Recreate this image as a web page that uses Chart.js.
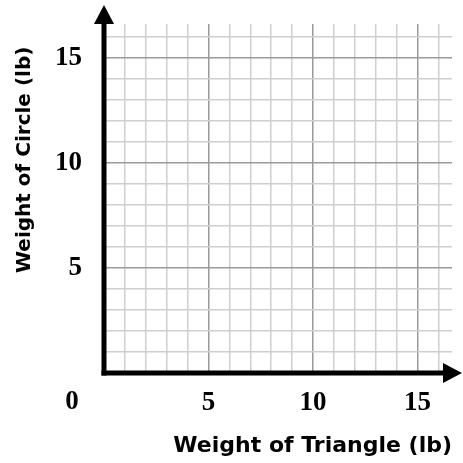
<!DOCTYPE html>
<html>
<head>
<meta charset="utf-8">
<script src="https://cdn.jsdelivr.net/npm/chart.js@4/dist/chart.umd.min.js"></script>
<style>
    html, body { margin: 0; padding: 0; background: #fff; }
    #wrap { width: 463px; height: 463px; }
</style>
</head>
<body>
<div id="wrap"><canvas id="weightChart"></canvas></div>
<script>
// Eksen verileri
const xRange = [0, 16.65];
const yRange = [0, 16.6];
const xTickLabels = [5, 10, 15];
const yTickLabels = [5, 10, 15];
const points = [];   // grafik boş, sadece ızgara

const xTitle = 'Weight of Triangle (lb)';
const yTitle = 'Weight of Circle (lb)';

const tickFont = {family: 'Liberation Serif', weight: 'bold', size: 27};

function gridColor(ctx) {
    const v = ctx.tick && ctx.tick.value;
    return (v % 5 === 0) ? '#9a9a9a' : '#cfcfcf';
}

function unitTicks(scale) {
    const t = [];
    for (let i = 1; i <= 16; i++) t.push({value: i});
    scale.ticks = t;
}

// Eksen okları, "0" etiketi ve eksen başlıkları
const arrowAxes = {
    id: 'arrowAxes',
    afterDraw(chart) {
        const c = chart.ctx;
        const x = chart.scales.x, y = chart.scales.y;
        const x0 = x.getPixelForValue(0);
        const y0 = y.getPixelForValue(0);
        c.save();
        c.strokeStyle = '#000';
        c.fillStyle = '#000';
        c.lineWidth = 5;
        c.lineCap = 'butt';
        // y ekseni
        c.beginPath();
        c.moveTo(x0, y0 + 2.5);
        c.lineTo(x0, 22);
        c.stroke();
        c.beginPath();
        c.moveTo(x0 - 10, 24);
        c.lineTo(x0, 5);
        c.lineTo(x0 + 10, 24);
        c.closePath();
        c.fill();
        // x ekseni
        c.beginPath();
        c.moveTo(x0 - 2.5, y0);
        c.lineTo(445, y0);
        c.stroke();
        c.beginPath();
        c.moveTo(443, y0 - 10);
        c.lineTo(462, y0);
        c.lineTo(443, y0 + 10);
        c.closePath();
        c.fill();
        // köşe etiketi
        c.font = 'bold 27px "Liberation Serif"';
        c.textAlign = 'center';
        c.textBaseline = 'middle';
        c.fillText('0', 72, 402);
        // başlıklar
        c.font = 'bold 22px "DejaVu Sans"';
        c.textAlign = 'right';
        c.textBaseline = 'alphabetic';
        c.fillText(xTitle, 452, 452);
        c.font = 'bold 20px "DejaVu Sans"';
        c.translate(30, 273);
        c.rotate(-Math.PI / 2);
        c.textAlign = 'left';
        c.fillText(yTitle, 0, 0);
        c.restore();
    }
};

const chart = new Chart(document.getElementById('weightChart'), {
    type: 'scatter',
    data: {
        datasets: [{data: points}]
    },
    options: {
        responsive: true,
        maintainAspectRatio: false,
        animation: false,
        layout: {padding: {top: 24, right: 11, left: 0, bottom: 0}},
        plugins: {
            legend: {display: false},
            tooltip: {enabled: false}
        },
        scales: {
            x: {
                type: 'linear',
                min: xRange[0],
                max: xRange[1],
                afterFit(scale) {
                    scale.height = 90;
                    scale.paddingLeft = 0;
                    scale.paddingRight = 0;
                },
                afterBuildTicks: unitTicks,
                border: {display: false},
                grid: {color: gridColor, lineWidth: 1.5, drawTicks: false},
                ticks: {
                    color: '#000',
                    font: tickFont,
                    padding: 14,
                    autoSkip: false,
                    maxRotation: 0,
                    callback: v => xTickLabels.includes(v) ? String(v) : ''
                }
            },
            y: {
                type: 'linear',
                min: yRange[0],
                max: yRange[1],
                afterFit(scale) {
                    scale.width = 104;
                    scale.paddingTop = 0;
                    scale.paddingBottom = 0;
                },
                afterBuildTicks: unitTicks,
                border: {display: false},
                grid: {color: gridColor, lineWidth: 1.5, drawTicks: false},
                ticks: {
                    color: '#000',
                    font: tickFont,
                    padding: 22,
                    autoSkip: false,
                    callback: v => yTickLabels.includes(v) ? String(v) : ''
                }
            }
        }
    },
    plugins: [arrowAxes]
});
</script>
</body>
</html>
